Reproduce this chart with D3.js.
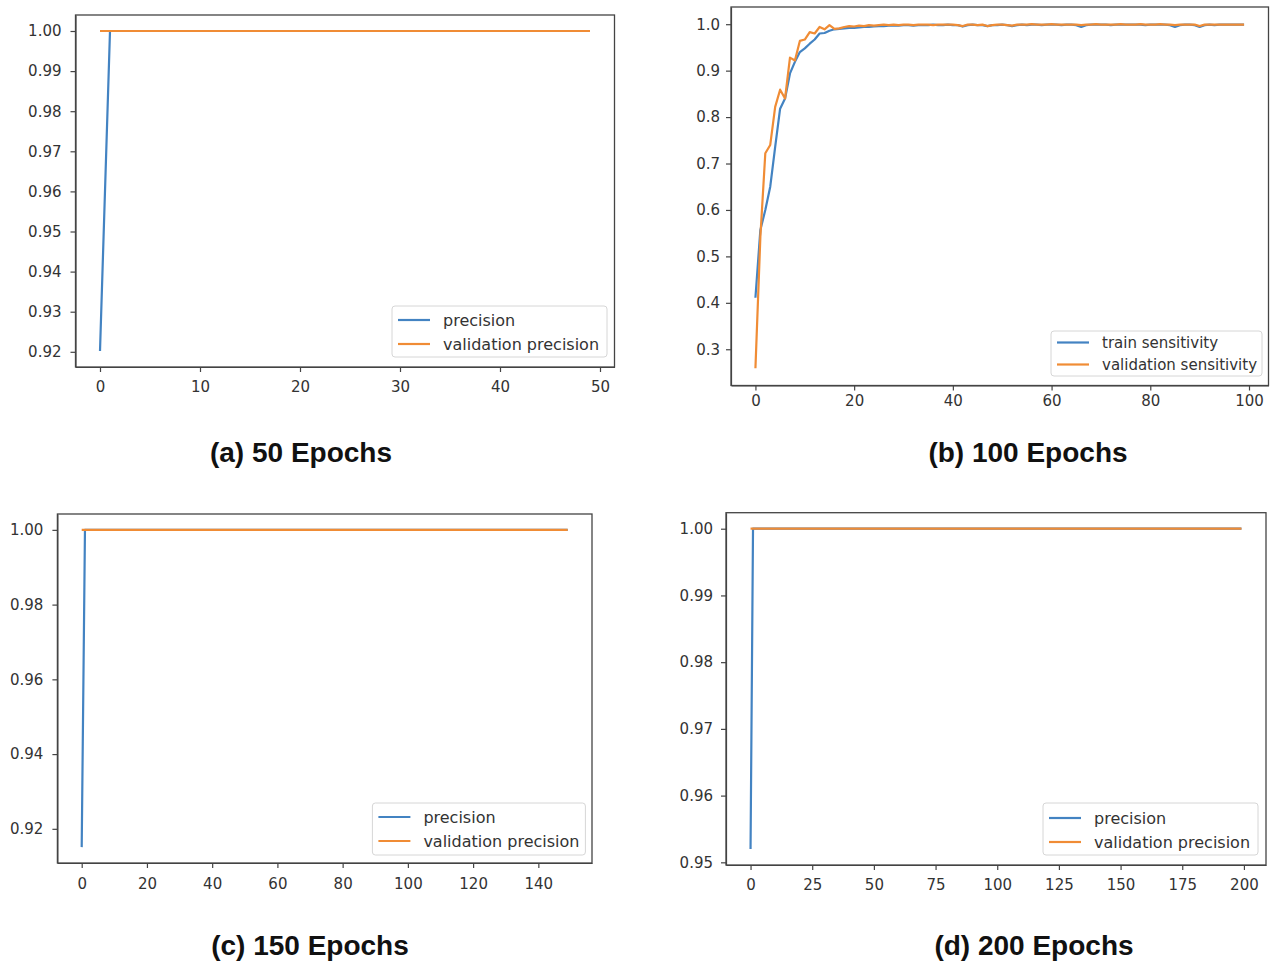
<!DOCTYPE html><html>
<head>
    <meta charset="utf-8">
    <style>
        body { margin: 0; background: #fff; }
        .axis text { font-family: "DejaVu Sans", sans-serif; fill: #333; }
        .axis path, .axis line { stroke: #444; stroke-width: 1.2; }
        .caption { font-family: "Liberation Sans", Arial, sans-serif; font-weight: bold; font-size: 28px; fill: #111; }
        .legend text { font-family: "DejaVu Sans", sans-serif; fill: #333; }
    </style>
</head>
<body>
    <script src="https://cdn.jsdelivr.net/npm/d3@7"></script>
    <script>
        // ---- data ----
        // (a) 50 epochs
        var precA = [0.9202, 1, 1, 1, 1, 1, 1, 1, 1, 1, 1, 1, 1, 1, 1, 1, 1, 1, 1, 1, 1, 1, 1, 1, 1,
            1, 1, 1, 1, 1, 1, 1, 1, 1, 1, 1, 1, 1, 1, 1, 1, 1, 1, 1, 1, 1, 1, 1, 1, 1];
        var valPrecA = [1, 1, 1, 1, 1, 1, 1, 1, 1, 1, 1, 1, 1, 1, 1, 1, 1, 1, 1, 1, 1, 1, 1, 1, 1,
            1, 1, 1, 1, 1, 1, 1, 1, 1, 1, 1, 1, 1, 1, 1, 1, 1, 1, 1, 1, 1, 1, 1, 1, 1];

        // (b) 100 epochs
        var trainSens = [0.411, 0.557, 0.600, 0.650, 0.736, 0.818, 0.840, 0.894, 0.919, 0.940,
            0.948, 0.958, 0.967, 0.980, 0.981, 0.986, 0.989, 0.990, 0.991, 0.992,
            0.992, 0.993, 0.994, 0.994, 0.995, 0.996, 0.996, 0.997, 0.997, 0.997,
            0.998, 0.998, 0.997, 0.998, 0.998, 0.998, 0.999, 0.998, 0.998, 0.999,
            0.998, 0.998, 0.995, 0.998, 0.999, 0.998, 0.998, 0.996, 0.998, 0.998,
            0.999, 0.998, 0.996, 0.998, 0.999, 0.998, 0.999, 0.999, 0.998, 0.999,
            0.999, 0.999, 0.998, 0.999, 0.999, 0.998, 0.994, 0.998, 0.999, 0.999,
            0.999, 0.999, 0.998, 0.999, 0.999, 0.999, 0.999, 0.999, 0.999, 0.998,
            0.999, 0.999, 0.999, 0.999, 0.998, 0.994, 0.998, 0.999, 0.999, 0.998,
            0.994, 0.998, 0.999, 0.998, 0.999, 0.999, 0.999, 0.999, 0.999, 0.999];
        var valSens = [0.259, 0.542, 0.722, 0.740, 0.822, 0.859, 0.840, 0.928, 0.922, 0.964,
            0.967, 0.983, 0.980, 0.994, 0.989, 0.998, 0.990, 0.991, 0.994, 0.996,
            0.995, 0.997, 0.996, 0.998, 0.997, 0.998, 0.999, 0.998, 0.999, 0.998,
            0.999, 0.999, 0.998, 0.999, 0.999, 0.999, 0.998, 0.999, 0.999, 0.999,
            0.999, 0.998, 0.996, 0.999, 0.999, 0.998, 0.999, 0.996, 0.998, 0.999,
            0.999, 0.998, 0.997, 0.999, 0.999, 0.999, 1.000, 0.999, 0.999, 0.999,
            1.000, 0.999, 0.999, 0.999, 0.999, 0.999, 0.998, 0.999, 0.999, 1.000,
            0.999, 0.999, 0.999, 0.999, 1.000, 0.999, 0.999, 0.999, 1.000, 0.999,
            0.999, 0.999, 1.000, 0.999, 0.999, 0.998, 0.999, 0.999, 0.999, 0.999,
            0.996, 0.999, 0.999, 0.999, 0.999, 0.999, 0.999, 0.999, 0.999, 0.999];

        // (c) 150 epochs
        var precC = [0.9151, 1, 1, 1, 1, 1, 1, 1, 1, 1, 1, 1, 1, 1, 1, 1, 1, 1, 1, 1, 1, 1, 1, 1, 1,
            1, 1, 1, 1, 1, 1, 1, 1, 1, 1, 1, 1, 1, 1, 1, 1, 1, 1, 1, 1, 1, 1, 1, 1, 1,
            1, 1, 1, 1, 1, 1, 1, 1, 1, 1, 1, 1, 1, 1, 1, 1, 1, 1, 1, 1, 1, 1, 1, 1, 1,
            1, 1, 1, 1, 1, 1, 1, 1, 1, 1, 1, 1, 1, 1, 1, 1, 1, 1, 1, 1, 1, 1, 1, 1, 1,
            1, 1, 1, 1, 1, 1, 1, 1, 1, 1, 1, 1, 1, 1, 1, 1, 1, 1, 1, 1, 1, 1, 1, 1, 1,
            1, 1, 1, 1, 1, 1, 1, 1, 1, 1, 1, 1, 1, 1, 1, 1, 1, 1, 1, 1, 1, 1, 1, 1, 1];
        var valPrecC = [1, 1, 1, 1, 1, 1, 1, 1, 1, 1, 1, 1, 1, 1, 1, 1, 1, 1, 1, 1, 1, 1, 1, 1, 1,
            1, 1, 1, 1, 1, 1, 1, 1, 1, 1, 1, 1, 1, 1, 1, 1, 1, 1, 1, 1, 1, 1, 1, 1, 1,
            1, 1, 1, 1, 1, 1, 1, 1, 1, 1, 1, 1, 1, 1, 1, 1, 1, 1, 1, 1, 1, 1, 1, 1, 1,
            1, 1, 1, 1, 1, 1, 1, 1, 1, 1, 1, 1, 1, 1, 1, 1, 1, 1, 1, 1, 1, 1, 1, 1, 1,
            1, 1, 1, 1, 1, 1, 1, 1, 1, 1, 1, 1, 1, 1, 1, 1, 1, 1, 1, 1, 1, 1, 1, 1, 1,
            1, 1, 1, 1, 1, 1, 1, 1, 1, 1, 1, 1, 1, 1, 1, 1, 1, 1, 1, 1, 1, 1, 1, 1, 1];

        // (d) 200 epochs
        var precD = [0.9520, 1, 1, 1, 1, 1, 1, 1, 1, 1, 1, 1, 1, 1, 1, 1, 1, 1, 1, 1, 1, 1, 1, 1, 1,
            1, 1, 1, 1, 1, 1, 1, 1, 1, 1, 1, 1, 1, 1, 1, 1, 1, 1, 1, 1, 1, 1, 1, 1, 1,
            1, 1, 1, 1, 1, 1, 1, 1, 1, 1, 1, 1, 1, 1, 1, 1, 1, 1, 1, 1, 1, 1, 1, 1, 1,
            1, 1, 1, 1, 1, 1, 1, 1, 1, 1, 1, 1, 1, 1, 1, 1, 1, 1, 1, 1, 1, 1, 1, 1, 1,
            1, 1, 1, 1, 1, 1, 1, 1, 1, 1, 1, 1, 1, 1, 1, 1, 1, 1, 1, 1, 1, 1, 1, 1, 1,
            1, 1, 1, 1, 1, 1, 1, 1, 1, 1, 1, 1, 1, 1, 1, 1, 1, 1, 1, 1, 1, 1, 1, 1, 1,
            1, 1, 1, 1, 1, 1, 1, 1, 1, 1, 1, 1, 1, 1, 1, 1, 1, 1, 1, 1, 1, 1, 1, 1, 1,
            1, 1, 1, 1, 1, 1, 1, 1, 1, 1, 1, 1, 1, 1, 1, 1, 1, 1, 1, 1, 1, 1, 1, 1, 1];
        var valPrecD = [1, 1, 1, 1, 1, 1, 1, 1, 1, 1, 1, 1, 1, 1, 1, 1, 1, 1, 1, 1, 1, 1, 1, 1, 1,
            1, 1, 1, 1, 1, 1, 1, 1, 1, 1, 1, 1, 1, 1, 1, 1, 1, 1, 1, 1, 1, 1, 1, 1, 1,
            1, 1, 1, 1, 1, 1, 1, 1, 1, 1, 1, 1, 1, 1, 1, 1, 1, 1, 1, 1, 1, 1, 1, 1, 1,
            1, 1, 1, 1, 1, 1, 1, 1, 1, 1, 1, 1, 1, 1, 1, 1, 1, 1, 1, 1, 1, 1, 1, 1, 1,
            1, 1, 1, 1, 1, 1, 1, 1, 1, 1, 1, 1, 1, 1, 1, 1, 1, 1, 1, 1, 1, 1, 1, 1, 1,
            1, 1, 1, 1, 1, 1, 1, 1, 1, 1, 1, 1, 1, 1, 1, 1, 1, 1, 1, 1, 1, 1, 1, 1, 1,
            1, 1, 1, 1, 1, 1, 1, 1, 1, 1, 1, 1, 1, 1, 1, 1, 1, 1, 1, 1, 1, 1, 1, 1, 1,
            1, 1, 1, 1, 1, 1, 1, 1, 1, 1, 1, 1, 1, 1, 1, 1, 1, 1, 1, 1, 1, 1, 1, 1, 1];

        var ticksAx = [0, 10, 20, 30, 40, 50];
        var ticksAy = [0.92, 0.93, 0.94, 0.95, 0.96, 0.97, 0.98, 0.99, 1.00];
        var ticksBx = [0, 20, 40, 60, 80, 100];
        var ticksBy = [0.3, 0.4, 0.5, 0.6, 0.7, 0.8, 0.9, 1.0];
        var ticksCx = [0, 20, 40, 60, 80, 100, 120, 140];
        var ticksCy = [0.92, 0.94, 0.96, 0.98, 1.00];
        var ticksDx = [0, 25, 50, 75, 100, 125, 150, 175, 200];
        var ticksDy = [0.95, 0.96, 0.97, 0.98, 0.99, 1.00];

        var captions = ["(a) 50 Epochs", "(b) 100 Epochs", "(c) 150 Epochs", "(d) 200 Epochs"];

        var blue = "#4383c2", orange = "#f08c35";

        var svg = d3.select('body').append('svg')
            .attr('width', 1273)
            .attr('height', 961);

        // matplotlib-style auto limits: 5% margin each side
        function padded(lo, hi) {
            var m = (hi - lo) * 0.05;
            return [lo - m, hi + m];
        }

        function drawPanel(p) {
            var n = p.series[0].values.length;
            var x = d3.scaleLinear().domain(padded(0, n - 1)).range([p.left, p.right]);
            var allV = d3.merge(p.series.map(function (s) { return s.values; }));
            var y = d3.scaleLinear().domain(padded(d3.min(allV), d3.max(allV))).range([p.bottom, p.top]);

            var g = svg.append('g');

            g.append('g').attr('class', 'axis')
                .attr('transform', 'translate(0,' + p.bottom + ')')
                .call(d3.axisBottom(x).tickValues(p.xt).tickFormat(d3.format('d')).tickSize(5).tickPadding(p.xpad).tickSizeOuter(0))
                .selectAll('text').style('font-size', p.fs + 'px');
            g.append('g').attr('class', 'axis')
                .attr('transform', 'translate(' + p.left + ',0)')
                .call(d3.axisLeft(y).tickValues(p.yt).tickFormat(d3.format(p.yf)).tickSize(5).tickPadding(p.ypad).tickSizeOuter(0))
                .selectAll('text').style('font-size', p.fs + 'px');

            var line = d3.line()
                .x(function (d, i) { return x(i); })
                .y(function (d) { return y(d); });

            p.series.forEach(function (s) {
                g.append('path')
                    .datum(s.values)
                    .attr('fill', 'none')
                    .attr('stroke', s.color)
                    .attr('stroke-width', 2.2)
                    .attr('stroke-linejoin', 'round')
                    .attr('d', line);
            });

            // frame
            g.append('rect')
                .attr('x', p.left).attr('y', p.top)
                .attr('width', p.right - p.left).attr('height', p.bottom - p.top)
                .attr('fill', 'none').attr('stroke', '#444').attr('stroke-width', 1.3);

            // legend (lower right)
            var lw = p.lw, lh = p.lh;
            var lx = p.right - p.lr - lw, ly = p.bottom - p.lb - lh;
            var lg = g.append('g').attr('class', 'legend');
            lg.append('rect')
                .attr('x', lx).attr('y', ly).attr('width', lw).attr('height', lh)
                .attr('rx', 3)
                .attr('fill', 'white').attr('fill-opacity', 0.85)
                .attr('stroke', '#d6d6d6').attr('stroke-width', 1);
            p.series.forEach(function (s, i) {
                var cy = ly + p.lpad + i * p.lrow;
                lg.append('line')
                    .attr('x1', lx + 6).attr('x2', lx + 38)
                    .attr('y1', cy).attr('y2', cy)
                    .attr('stroke', s.color).attr('stroke-width', 2.2);
                lg.append('text')
                    .attr('x', lx + 51).attr('y', cy)
                    .attr('dy', '0.35em')
                    .style('font-size', p.lfs + 'px')
                    .text(s.label);
            });

            svg.append('text')
                .attr('class', 'caption')
                .attr('x', p.cx).attr('y', p.cy)
                .attr('text-anchor', 'middle')
                .text(p.caption);
        }

        drawPanel({
            left: 75.5, right: 614.5, top: 15, bottom: 367,
            xt: ticksAx, yt: ticksAy, yf: '.2f', fs: 15, xpad: 9, ypad: 9,
            series: [
                { values: precA, color: blue, label: 'precision' },
                { values: valPrecA, color: orange, label: 'validation precision' }
            ],
            lw: 215, lh: 51, lr: 7.5, lb: 10, lpad: 14, lrow: 24, lfs: 16,
            caption: captions[0], cx: 301, cy: 462
        });

        drawPanel({
            left: 731, right: 1268.5, top: 7, bottom: 385.5,
            xt: ticksBx, yt: ticksBy, yf: '.1f', fs: 15, xpad: 5, ypad: 6,
            series: [
                { values: trainSens, color: blue, label: 'train sensitivity' },
                { values: valSens, color: orange, label: 'validation sensitivity' }
            ],
            lw: 211, lh: 45, lr: 6.5, lb: 9.5, lpad: 11.5, lrow: 22, lfs: 15,
            caption: captions[1], cx: 1028, cy: 462
        });

        drawPanel({
            left: 57.4, right: 592, top: 514, bottom: 863,
            xt: ticksCx, yt: ticksCy, yf: '.2f', fs: 15, xpad: 10, ypad: 9,
            series: [
                { values: precC, color: blue, label: 'precision' },
                { values: valPrecC, color: orange, label: 'validation precision' }
            ],
            lw: 213, lh: 52, lr: 6.6, lb: 8, lpad: 14, lrow: 24, lfs: 16,
            caption: captions[2], cx: 310, cy: 955
        });

        drawPanel({
            left: 726, right: 1266, top: 512.7, bottom: 865,
            xt: ticksDx, yt: ticksDy, yf: '.2f', fs: 15, xpad: 9, ypad: 8,
            series: [
                { values: precD, color: blue, label: 'precision' },
                { values: valPrecD, color: orange, label: 'validation precision' }
            ],
            lw: 215, lh: 52, lr: 8, lb: 10, lpad: 15, lrow: 24, lfs: 16,
            caption: captions[3], cx: 1034, cy: 955
        });
    </script>
</body></html>
